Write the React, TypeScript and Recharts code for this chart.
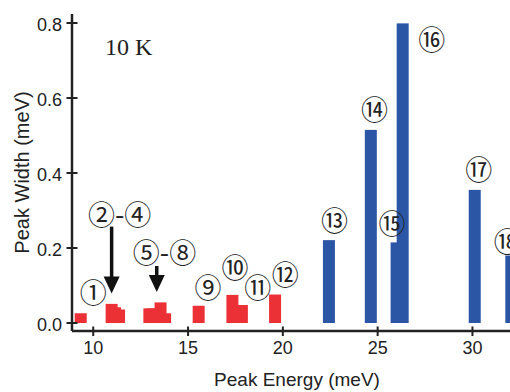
import { ComposedChart, Bar, XAxis, YAxis, Scatter, ReferenceLine } from 'recharts'

// peak energies (meV) and widths (meV), 10 K
const redEnergy = [9.34, 10.97, 11.15, 11.36, 12.96, 13.12, 13.55, 13.79, 15.56, 17.34, 17.84, 19.59]
const redWidth = [0.026, 0.051, 0.042, 0.036, 0.039, 0.039, 0.055, 0.026, 0.046, 0.075, 0.048, 0.076]
const blueEnergy = [22.43, 24.64, 26.0, 26.32, 30.12, 32.05]
const blueWidth = [0.221, 0.515, 0.215, 0.799, 0.355, 0.18]

const xTicks = [10, 15, 20, 25, 30]
const yTicks = [0, 0.2, 0.4, 0.6, 0.8]

const peakLabels = ['①', '②-④', '⑤-⑧', '⑨', '⑩', '⑪', '⑫', '⑬', '⑭', '⑮', '⑯', '⑰', '⑱']
const labelEnergy = [10.0, 11.39, 13.76, 16.05, 17.48, 18.67, 20.13, 22.72, 24.83, 25.76, 27.85, 30.33, 31.83]
const labelWidth = [0.083, 0.293, 0.19, 0.097, 0.152, 0.097, 0.131, 0.275, 0.571, 0.267, 0.759, 0.411, 0.221]

const arrowEnergy = [10.97, 13.35]
const arrowTop = [0.257, 0.152]
const arrowTip = [0.079, 0.083]

const RED = '#ec3136'
const BLUE = '#2b56a6'
const INK = '#222'
const SANS = '"Liberation Sans", Arial, sans-serif'
const BAR_PX = 12

const peaks = [
    ...redEnergy.map((e, i) => ({ e, w: redWidth[i], color: RED })),
    ...blueEnergy.map((e, i) => ({ e, w: blueWidth[i], color: BLUE })),
]

const labels = peakLabels.map((text, i) => ({ e: labelEnergy[i], y: labelWidth[i], text }))

function XTick(props: any) {
    const { x, y, payload } = props
    return (
        <g>
            <line x1={x} x2={x} y1={y - 4.5} y2={y + 5} stroke={INK} strokeWidth={2} />
            <text x={x} y={y + 23} textAnchor="middle" fontSize={18} fontFamily={SANS} fill={INK}>
                {payload.value}
            </text>
        </g>
    )
}

function YTick(props: any) {
    const { x, y, payload } = props
    return (
        <g>
            <line x1={x - 5.5} x2={x + 5.5} y1={y} y2={y} stroke={INK} strokeWidth={2} />
            <text x={x - 10} y={y + 7.5} textAnchor="end" fontSize={18} fontFamily={SANS} fill={INK}>
                {Number(payload.value).toFixed(1)}
            </text>
        </g>
    )
}

// numeric x axis squeezes the band, so draw a fixed-width rect around the bar centre
function PeakBar(props: any) {
    const { x, y, width, height, payload } = props
    if (!height) return <g />
    return <rect x={x + width / 2 - BAR_PX / 2} y={y} width={BAR_PX} height={height} fill={payload.color} />
}

function PeakLabel(props: any) {
    const { cx, cy, payload } = props
    return (
        <text x={cx} y={cy} textAnchor="middle" dominantBaseline="central" fontSize={27}
            fontFamily={'"Noto Sans CJK JP", "DejaVu Sans", serif'} fill={INK}>
            {payload.text}
        </text>
    )
}

function Arrow(props: any) {
    const { x1, y1, x2, y2 } = props
    const head = 17
    return (
        <g>
            <line x1={x1} x2={x2} y1={y1} y2={y2 - head + 1} stroke="#111" strokeWidth={3.5} />
            <polygon points={`${x2 - 8},${y2 - head} ${x2 + 8},${y2 - head} ${x2},${y2}`} fill="#111" />
        </g>
    )
}

export default function App() {
    return (
        <div style={{ position: 'absolute', left: 0, top: 0, width: 510, height: 392, overflow: 'hidden', background: '#fff' }}>
            <ComposedChart width={560} height={392} data={peaks} margin={{ top: 14, right: 10, bottom: 0, left: 0 }}>
                <XAxis
                    xAxisId="top"
                    orientation="top"
                    dataKey="e"
                    type="number"
                    domain={[8.88, 34.09]}
                    allowDataOverflow
                    height={0}
                    tick={false}
                    tickLine={false}
                    axisLine={{ stroke: INK, strokeWidth: 2.5 }}
                />
                <XAxis
                    dataKey="e"
                    type="number"
                    domain={[8.88, 34.09]}
                    allowDataOverflow
                    ticks={xTicks}
                    height={61}
                    tickSize={0}
                    tickMargin={0}
                    tick={<XTick />}
                    axisLine={{ stroke: INK, strokeWidth: 2.5 }}
                    label={{ value: 'Peak Energy (meV)', position: 'insideBottom', offset: 6, dx: -14, fontSize: 19, fontFamily: SANS, fill: INK }}
                />
                <YAxis
                    type="number"
                    domain={[-0.0213, 0.824]}
                    allowDataOverflow
                    ticks={yTicks}
                    width={72}
                    tickSize={0}
                    tickMargin={0}
                    tick={<YTick />}
                    axisLine={{ stroke: INK, strokeWidth: 2.5 }}
                    label={{ value: 'Peak Width (meV)', angle: -90, position: 'insideLeft', offset: 22, textAnchor: 'middle', fontSize: 20, fontFamily: SANS, fill: INK }}
                />
                <Bar dataKey="w" shape={<PeakBar />} isAnimationActive={false} />
                {arrowEnergy.map((e, i) => (
                    <ReferenceLine
                        key={i}
                        segment={[{ x: e, y: arrowTop[i] }, { x: e, y: arrowTip[i] }]}
                        shape={<Arrow />}
                    />
                ))}
                <Scatter data={labels} dataKey="y" shape={<PeakLabel />} isAnimationActive={false} />
                <Scatter
                    data={[{ e: 10.62, y: 0.736, text: '10 K' }]}
                    dataKey="y"
                    isAnimationActive={false}
                    shape={(p: any) => (
                        <text x={p.cx} y={p.cy + 8} fontSize={24} fontFamily={'"Liberation Serif", serif'} fill={INK}>
                            {p.payload.text}
                        </text>
                    )}
                />
            </ComposedChart>
        </div>
    )
}
